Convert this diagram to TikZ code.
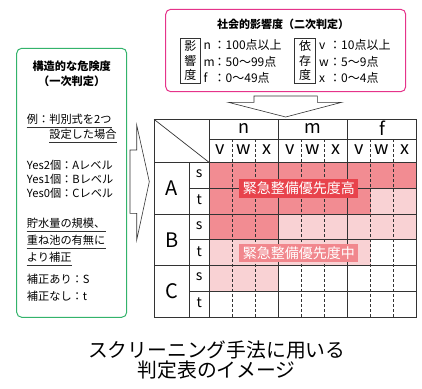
\documentclass[tikz,border=0pt]{standalone}
\usepackage{fontspec}
\setmainfont{Noto Sans CJK JP}
\usetikzlibrary{positioning}

\definecolor{hicell}{HTML}{F28C92}
\definecolor{locell}{HTML}{F9D2D4}
\definecolor{hilabel}{HTML}{E8434C}
\definecolor{lolabel}{HTML}{F1878D}
\definecolor{boxpink}{HTML}{E5338A}
\definecolor{boxgreen}{HTML}{33B36B}
\definecolor{gridgray}{HTML}{333333}

\newcommand{\fsz}[1]{\fontsize{#1}{#1}\selectfont}

\tikzset{
	txt/.style={inner sep=0pt,font=\fsz{11.2}},
	rng/.style={inner sep=0pt,anchor=west,font=\fsz{12}},
	vbox/.style={draw=gridgray,line width=0.6pt,inner sep=0pt,align=center,minimum width=20.7pt,minimum height=45pt,font=\fontsize{12}{14.6}\selectfont},
	head/.style={inner sep=0pt,font=\fsz{18}},
	lbl/.style={inner sep=0pt,text=white,minimum width=119pt,minimum height=18.5pt,font=\fsz{14}},
	frame/.style={rounded corners=5pt,line width=1pt},
	bigarrow/.style={draw=gridgray,line width=0.6pt,fill=white,line join=miter}
}

\begin{document}
\begin{tikzpicture}[x=1pt,y=-1pt,node distance=0,on grid=false]
	\useasboundingbox (0,0) rectangle (422,388);

	% upper box
	\draw[frame,boxpink] (165.7,9.3) rectangle (405.7,91.7);
	\node[txt,font=\fsz{11}\bfseries] (social) at (283,24) {社会的影響度（二次判定）};
	\node[vbox] (eikyo) at (190.3,60.8) {影\\響\\度};
	\node[rng] (n) at (203.5,45) {\makebox[10pt][l]{n}：100点以上};
	\node[rng] (m) at (203.5,62) {\makebox[10pt][l]{m}：50〜99点};
	\node[rng] (f) at (203.5,78) {\makebox[10pt][l]{f}：0〜49点};
	\node[vbox] (izon) at (305,60.8) {依\\存\\度};
	\node[rng] (v) at (319,45) {\makebox[10pt][l]{v}：10点以上};
	\node[rng] (w) at (319,62) {\makebox[10pt][l]{w}：5〜9点};
	\node[rng] (x) at (319,78) {\makebox[10pt][l]{x}：0〜4点};

	% left box
	\draw[frame,boxgreen] (16.7,48.3) rectangle (126.7,317.3);
	\node[txt,font=\fsz{11.2}\bfseries] (struct) at (71.7,66) {構造的な危険度};
	\node[txt,font=\fsz{11.2}\bfseries] (first) at (71.7,81.7) {（一次判定）};
	\node[txt,anchor=west] (ex) at (26.7,119.3) {例：判別式を2つ};
	\node[txt,anchor=east] (case) at (116.7,134.3) {設定した場合};
	\node[txt,anchor=west] (yes2) at (26.7,165) {Yes2個：Aレベル};
	\node[txt,anchor=west] (yes1) at (26.7,179) {Yes1個：Bレベル};
	\node[txt,anchor=west] (yes0) at (26.7,193) {Yes0個：Cレベル};
	\node[txt,anchor=west] (store) at (26.7,223.3) {貯水量の規模、};
	\node[txt,anchor=west] (pond) at (26.7,240.7) {重ね池の有無に};
	\node[txt,anchor=west] (corr) at (26.7,257.3) {より補正};
	\node[txt,anchor=west] (withs) at (26.7,279.3) {補正あり：S};
	\node[txt,anchor=west] (witht) at (26.7,296) {補正なし：t};
	\foreach \u in {ex,case,store,pond,corr}
		\draw[gridgray,line width=0.6pt] ([yshift=-2.5pt]\u.south west) -- ([yshift=-2.5pt]\u.south east);

	% arrows
	\draw[bigarrow] (254,96) -- (317.3,96) -- (317.3,102.3) -- (341.7,102.3) -- (285.7,117)
		-- (228.3,102.3) -- (254,102.3) -- cycle;
	\draw[bigarrow] (130,150) -- (136.7,150) -- (136.7,125) -- (149.3,181.7) -- (136.7,240)
		-- (136.7,213.3) -- (130,213.3) -- cycle;

	% cell colours
	\foreach \r/\a/\b/\c in {0/0/8/hicell,1/0/6/hicell,1/7/8/locell,2/0/2/hicell,
		2/3/8/locell,3/0/6/locell,4/0/2/locell}
		\fill[\c] (209+\a*23.08,162.3+\r*25.8) rectangle (232.08+\b*23.08,188.1+\r*25.8);

	% grid
	\begin{scope}[gridgray,line width=0.7pt]
		\draw (154,119.3) rectangle (416.7,317.1);
		\draw (154,119.3) -- (209,162.3);
		\draw (209,139.3) -- (416.7,139.3);
		\draw (154,162.3) -- (416.7,162.3);
		\foreach \k in {1,3,5}
			\draw (189.3,162.3+\k*25.8) -- (416.7,162.3+\k*25.8);
		\foreach \k in {2,4}
			\draw (154,162.3+\k*25.8) -- (416.7,162.3+\k*25.8);
		\draw (189.3,162.3) -- (189.3,317.1);
		\foreach \k in {0,3,6}
			\draw (209+\k*23.08,119.3) -- (209+\k*23.08,317.1);
		\foreach \k in {1,2,4,5,7,8}
			\draw[dash pattern=on 3pt off 2pt] (209+\k*23.08,139.3) -- (209+\k*23.08,317.1);
	\end{scope}

	% header texts
	\foreach \g/\t in {0/n,1/m,2/f}
		\node[head] (grp-\t) at (243.6+\g*69.25,128.3) {\t};
	\foreach \g in {0,1,2}
		\foreach \s/\t in {0/v,1/w,2/x}
			\node[head] (sub-\g-\t) at (220.5+\g*69.25+\s*23.08,149.3) {\t};
	\foreach \l/\r in {A/0,B/1,C/2}
		\node[inner sep=0pt,font=\fsz{20}] (lvl-\l) at (171.7,188.1+\r*51.6) {\l};
	\foreach \r in {0,1,2} {
		\node[inner sep=0pt,font=\fsz{14}] (s-\r) at (199.2,173.7+\r*51.6) {s};
		\node[inner sep=0pt,font=\fsz{14}] (t-\r) at (199.2,200+\r*51.6) {t};
	}

	% priority labels
	\node[lbl,fill=hilabel] (high) at (298.8,188.3) {緊急整備優先度高};
	\node[lbl,fill=lolabel] (mid) at (298.8,252.8) {緊急整備優先度中};

	% caption
	\node[inner sep=0pt,font=\fsz{19.8}] (cap1) at (216.7,350) {スクリーニング手法に用いる};
	\node[inner sep=0pt,font=\fsz{19.8}] (cap2) at (216.7,370.5) {判定表のイメージ};
\end{tikzpicture}
\end{document}
